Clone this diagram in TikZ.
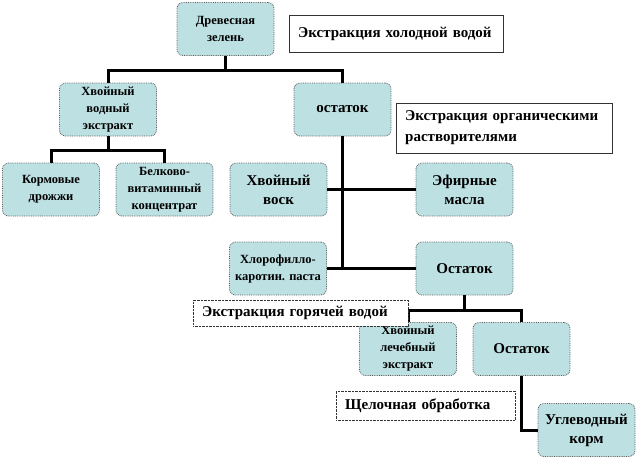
\documentclass[tikz,border=0pt]{standalone}
\usepackage{fontspec}
\setmainfont{Liberation Serif}
\definecolor{boxfill}{RGB}{189,224,227}
\begin{document}
\begin{tikzpicture}
[x=1pt,y=-1pt,
  boxdecorate/.style={shape=rectangle,rounded corners=6pt,draw=black!65,densely dotted,
    line width=0.8pt,fill=boxfill,minimum width=97pt,minimum height=53pt,align=center,inner sep=2pt},
  smallfont/.style={font=\bfseries\fontsize{12.5}{17}\selectfont},
  bigfont/.style={font=\bfseries\fontsize{15}{19}\selectfont},
  labeldecorate/.style={shape=rectangle,draw=black!80,fill=white,align=left,anchor=west,
    inner xsep=9pt,inner ysep=2pt,font=\bfseries\fontsize{15}{21}\selectfont},
  linedecorate/.style={-,line width=3pt}]
\useasboundingbox (0,0) rectangle (638,459);
%% nodes or boxes
\foreach \nodename/\x/\y/\size/\content in {
  dz/225.5/29/smallfont/{Древесная\\зелень},
  hve/108/109.5/smallfont/{Хвойный\\водный\\экстракт},
  ost1/342.5/109.5/bigfont/{остаток},
  korm/51/189.5/smallfont/{Кормовые\\дрожжи},
  belk/164.5/189.5/smallfont/{Белково-\\витаминный\\концентрат},
  voss/278.5/189.5/bigfont/{Хвойный\\воск},
  efir/464.5/189.5/bigfont/{Эфирные\\масла},
  hlor/278/268.5/smallfont/{Хлорофилло-\\каротин. паста},
  ost2/464.5/268.5/bigfont/{Остаток},
  lech/408/349/smallfont/{Хвойный\\лечебный\\экстракт},
  ost3/521.5/349/bigfont/{Остаток},
  ugl/586.5/430/bigfont/{Углеводный\\корм}}
{
  \node (\nodename) at (\x,\y) [boxdecorate,\size] {\content};
}
%% junctions
\coordinate (j1) at (225.5,70);
\coordinate (j2) at (108,150);
\coordinate (j3) at (464.5,310);
%% edges or lines
\draw[linedecorate] (dz.south) -- (j1);
\draw[linedecorate] (hve.north) |- (j1) -| (ost1.north);
\draw[linedecorate] (hve.south) -- (j2);
\draw[linedecorate] (korm.north) |- (j2) -| (belk.north);
\draw[linedecorate] (ost1.south) -- (ost1.south |- ost2.west);
\path
\foreach \startnode/\endnode in {voss/efir, hlor/ost2} {
  (\startnode) edge[linedecorate] (\endnode)
};
\draw[linedecorate] (ost2.south) -- (j3);
\draw[linedecorate] (lech.north) |- (j3) -| (ost3.north);
\draw[linedecorate] (ost3.south) |- (ugl.west);
%% stage labels
\node (cold) at (289,33.5) [labeldecorate,text width=196pt,minimum height=37pt]
  {Экстракция холодной водой};
\node (org) at (396,128) [labeldecorate,text width=198pt,minimum height=50pt]
  {Экстракция органическими\\растворителями};
\node (hot) at (193,313) [labeldecorate,text width=197pt,minimum height=26pt,densely dotted]
  {Экстракция горячей водой};
\node (alk) at (336,405.5) [labeldecorate,text width=161pt,minimum height=29pt,densely dotted]
  {Щелочная обработка};
\end{tikzpicture}
\end{document}
